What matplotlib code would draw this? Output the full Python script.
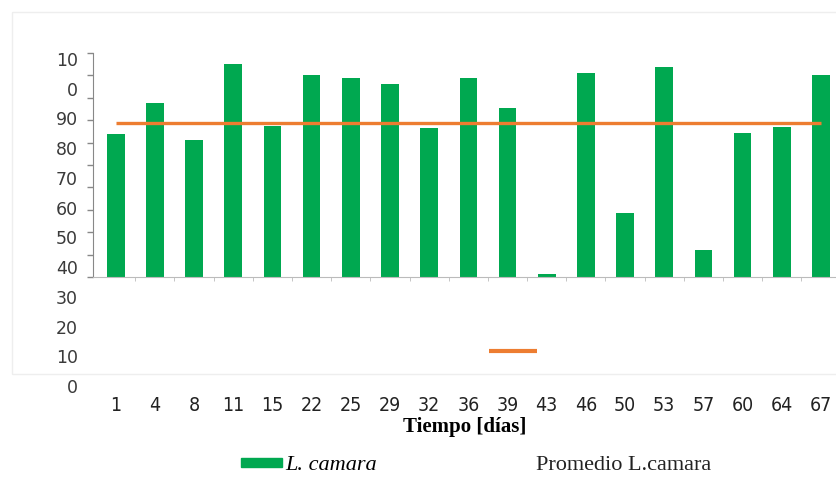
import matplotlib
matplotlib.use("Agg")
import matplotlib.pyplot as plt
from matplotlib.patches import Patch, Rectangle
from matplotlib.lines import Line2D

dias = ["1", "4", "8", "11", "15", "22", "25", "29", "32", "36",
        "39", "43", "46", "50", "53", "57", "60", "64", "67"]
l_camara = [63.7, 77.6, 61.2, 95.1, 67.6, 90.0, 88.8, 86.3, 66.4, 88.8,
            75.4, 1.2, 91.0, 28.4, 93.7, 12.0, 64.5, 67.1, 90.0]
promedio = 68.9
# the y labels as they appear (shifted column, "100" broken in two)
y_labels = ["10", "0", "90", "80", "70", "60", "50", "40", "30", "20", "10", "0"]

GREEN = "#00a850"
ORANGE = "#ed7d31"
W, H = 837, 491

fig = plt.figure(figsize=(W / 100, H / 100), dpi=100)


def box(x0, y0, x1, y1):
    """pixel box (top-left origin) -> figure fraction rect"""
    return [x0 / W, 1 - y1 / H, (x1 - x0) / W, (y1 - y0) / H]


# faint chart-area frame
fig.add_artist(Rectangle((12 / W, 1 - 374 / H), 1, 362 / H, transform=fig.transFigure,
                         fill=False, edgecolor="#eeeeee", linewidth=1))

ax = fig.add_axes(box(93, 53, 837, 277))
x = range(len(dias))
ax.bar(x, l_camara, width=0.45, color=GREEN)
ax.plot([0, len(dias) - 1], [promedio, promedio], color=ORANGE, linewidth=2.4,
        solid_capstyle="butt")
ax.set_ylim(0, 100)
ax.set_xlim(-0.58, len(dias) - 0.59)
ax.set_yticks(range(0, 101, 10))
ax.set_yticklabels([])
ax.tick_params(axis="y", length=4, width=1, color="#888888", direction="out")
ax.set_xticks([i + 0.5 for i in range(len(dias) - 1)], minor=True)
ax.set_xticks(list(x))
ax.set_xticklabels(dias, family="DejaVu Sans", stretch="condensed",
                   fontsize=14, color="#222222")
ax.tick_params(axis="x", which="major", length=0, pad=86)
ax.tick_params(axis="x", which="minor", length=3, color="#bbbbbb")
for s in ("top", "right"):
    ax.spines[s].set_visible(False)
ax.spines["left"].set_color("#888888")
ax.spines["bottom"].set_color("#bbbbbb")
ax.set_xlabel("Tiempo [días]", family="Liberation Serif", fontweight="bold",
              fontsize=15, labelpad=1)

# detached column of y labels
axl = fig.add_axes(box(93, 59, 94, 386))
axl.set_ylim(len(y_labels) - 1, 0)
axl.set_yticks(range(len(y_labels)))
axl.set_yticklabels(y_labels, fontsize=12.5, color="#3a3a3a")
axl.tick_params(axis="y", length=0, pad=11)
axl.set_xticks([])
for s in axl.spines.values():
    s.set_visible(False)
axl.patch.set_visible(False)

# legend
fig.legend(handles=[Patch(color=GREEN)], labels=["L. camara"],
           loc="center left", bbox_to_anchor=(230 / W, 1 - 466 / H),
           frameon=False, handlelength=1.85, handleheight=0.24, handletextpad=0.15,
           borderpad=0, prop={"family": "Liberation Serif", "style": "italic", "size": 16})
fig.add_artist(Line2D([489 / W, 537 / W], [1 - 351 / H] * 2, transform=fig.transFigure,
                      color=ORANGE, linewidth=3, solid_capstyle="butt"))
fig.text(536 / W, 1 - 466 / H, "Promedio L.camara", family="Liberation Serif",
         fontsize=16, va="center", ha="left", color="#222222")

fig.savefig("out.png", dpi=100)
